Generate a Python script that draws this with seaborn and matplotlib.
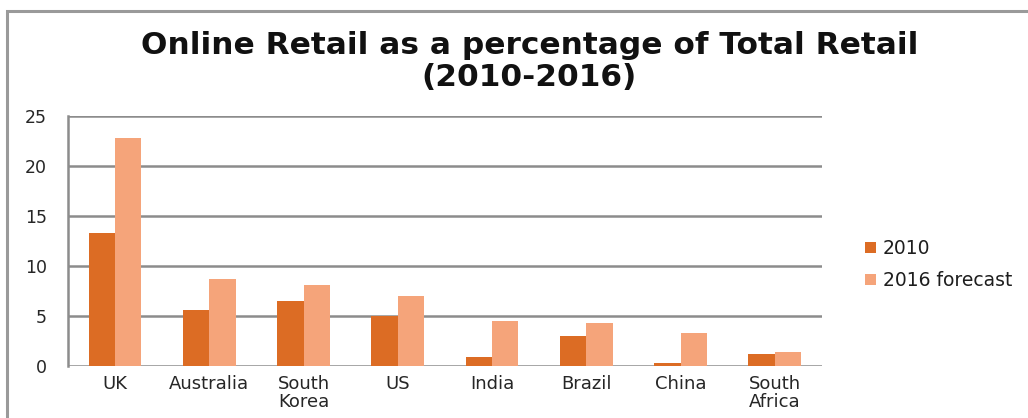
import matplotlib
matplotlib.use("Agg")
import matplotlib.pyplot as plt
from matplotlib.patches import Rectangle
import pandas as pd
import seaborn as sns

# Online retail share of total retail, by country (%)
countries = ["UK", "Australia", "South\nKorea", "US", "India", "Brazil", "China", "South\nAfrica"]
share_2010 = [13.3, 5.6, 6.5, 5.0, 0.9, 3.0, 0.3, 1.2]
share_2016 = [22.8, 8.7, 8.1, 7.0, 4.5, 4.3, 3.3, 1.4]
series_names = ["2010", "2016 forecast"]
y_ticks = [0, 5, 10, 15, 20, 25]

df = pd.DataFrame({
    "country": countries * 2,
    "share": share_2010 + share_2016,
    "series": [series_names[0]] * len(countries) + [series_names[1]] * len(countries),
})

sns.set_theme(style="white")
plt.rcParams["font.family"] = ["DejaVu Sans"]

fig = plt.figure(figsize=(10.28, 4.18), dpi=100)
ax = fig.add_axes([0.0661, 0.125, 0.7335, 0.598])

palette = {"2010": "#DC6C24", "2016 forecast": "#F5A47A"}
sns.barplot(data=df, x="country", y="share", hue="series", palette=palette,
            width=0.56, gap=0, saturation=1, linewidth=0, ax=ax, legend=True)

ax.set_ylim(0, 25)
ax.set_yticks(y_ticks)
ax.set_xlim(-0.5, len(countries) - 0.5)
ax.yaxis.grid(True, color="#8C8C8C", linewidth=1.8)
ax.set_axisbelow(True)
for side in ["top", "right", "bottom"]:
    ax.spines[side].set_visible(False)
ax.spines["left"].set_color("#8C8C8C")
ax.spines["left"].set_linewidth(1.8)
ax.set_xlabel("")
ax.set_ylabel("")
ax.tick_params(axis="y", length=0, pad=15, labelsize=12.5, labelcolor="#262626")
ax.tick_params(axis="x", length=0, pad=7, labelsize=13, labelcolor="#262626")
for lbl in ax.get_xticklabels():
    lbl.set_linespacing(0.95)

leg = ax.legend(loc="center left", bbox_to_anchor=(1.035, 0.405), frameon=False,
                fontsize=13.5, handlelength=0.55, handleheight=0.55,
                handletextpad=0.4, labelspacing=0.7, labelcolor="#1E1E1E")

# Two-line title
fig.text(0.515, 1 - 45 / 418, "Online Retail as a percentage of Total Retail",
         ha="center", va="center", fontsize=22.5, fontweight="bold", color="#111111")
fig.text(0.515, 1 - 78 / 418, "(2010-2016)",
         ha="center", va="center", fontsize=22.5, fontweight="bold", color="#111111")

# Chart frame, open at the right and bottom edges
fig.patches.append(Rectangle((7 / 1028, -0.1), 1.1, 1.1 - 11 / 418,
                             transform=fig.transFigure, fill=False,
                             edgecolor="#9A9A9A", linewidth=2.2, clip_on=False))

fig.savefig("out.png", dpi=100, facecolor="white")
